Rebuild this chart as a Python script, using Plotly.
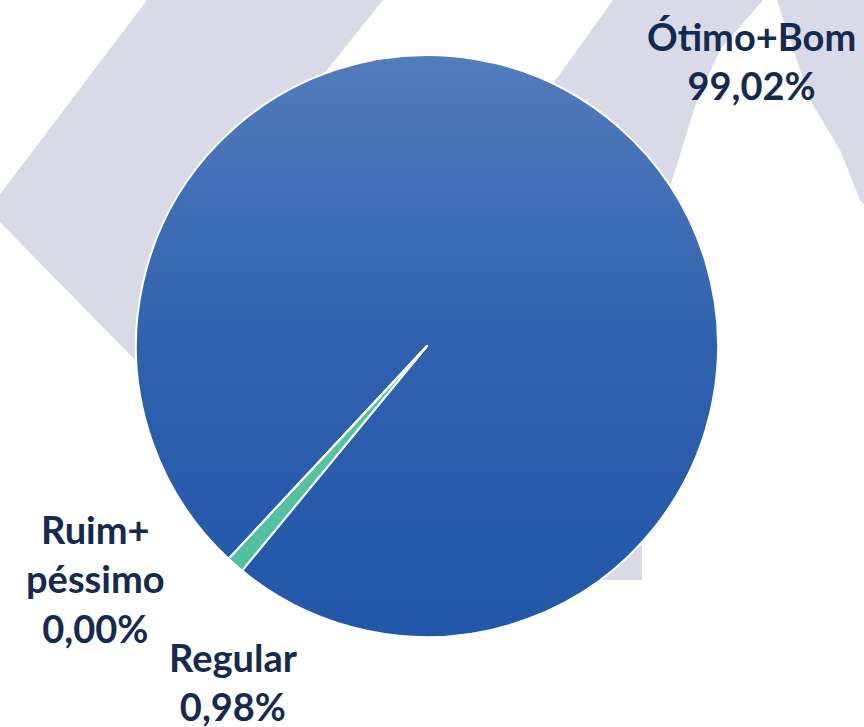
import base64
import plotly.graph_objects as go

# ---------------- data ----------------
categories = ["Ótimo+Bom", "Regular", "Ruim+péssimo"]
display_names = ["Ótimo+Bom", "Regular", "Ruim+<br>péssimo"]
values = [99.02, 0.98, 0.00]
slice_colors = ["#2257a9", "#4fbfa0", "#7f7f7f"]

W, H = 864, 727


def px(x):
    return x / W


def py(y):
    return 1 - y / H


def fmt(v):
    return f"{v:.2f}".replace(".", ",") + "%"


# pie geometry (pixels)
cx, cy, r = 427, 346, 291

fig = go.Figure()

fig.add_trace(go.Pie(
    labels=categories,
    values=values,
    sort=False,
    direction="clockwise",
    rotation=223,
    marker=dict(colors=slice_colors, line=dict(color="white", width=2)),
    textinfo="none",
    hoverinfo="label+percent",
    showlegend=False,
    domain=dict(x=[px(cx - r), px(cx + r)], y=[py(cy + r), py(cy - r)]),
))

# ---------------- watermark background shapes ----------------
wm_color = "#d8dbe7"


def poly(points):
    d = "M " + " L ".join(f"{px(x):.5f},{py(y):.5f}" for x, y in points) + " Z"
    return dict(type="path", path=d, xref="paper", yref="paper",
                fillcolor=wm_color, line=dict(width=0), layer="below")


shapes = [
    poly([(147, 0), (383, 0), (183, 250), (200, 420), (135, 360), (-12, 210)]),
    poly([(613, 0), (763, 0), (720, 50), (697, 100), (670, 187), (640, 230), (527, 120)]),
    poly([(777, 0), (870, 0), (870, 212), (860, 200), (840, 150), (810, 100)]),
    poly([(642, 500), (642, 580), (580, 580), (580, 500)]),
]

# ---------------- gradient sheen over the pie ----------------
svg = f"""<svg xmlns='http://www.w3.org/2000/svg' width='{2*r}' height='{2*r}' viewBox='0 0 {2*r} {2*r}'>
<defs><linearGradient id='g' x1='0' y1='0' x2='0' y2='1'>
<stop offset='0' stop-color='white' stop-opacity='0.22'/>
<stop offset='0.5' stop-color='white' stop-opacity='0.06'/>
<stop offset='1' stop-color='white' stop-opacity='0'/>
</linearGradient></defs>
<circle cx='{r}' cy='{r}' r='{r-1}' fill='url(#g)'/>
</svg>"""
src = "data:image/svg+xml;base64," + base64.b64encode(svg.encode()).decode()

images = [dict(source=src, xref="paper", yref="paper",
               x=px(cx - r), y=py(cy - r), sizex=2 * r / W, sizey=2 * r / H,
               xanchor="left", yanchor="top", sizing="stretch", layer="above")]

# ---------------- labels ----------------
label_pos = [(751, 60), (233, 681), (95, 578)]
annotations = []
for name, v, (lx, ly) in zip(display_names, values, label_pos):
    annotations.append(dict(
        text=f"<b>{name}<br>{fmt(v)}</b>",
        x=px(lx), y=py(ly), xref="paper", yref="paper",
        xanchor="center", yanchor="middle", showarrow=False,
        align="center",
        font=dict(family="Lato", size=38, color="#152a50"),
    ))

fig.update_layout(
    width=W, height=H,
    margin=dict(l=0, r=0, t=0, b=0),
    paper_bgcolor="white",
    plot_bgcolor="white",
    shapes=shapes,
    images=images,
    annotations=annotations,
    showlegend=False,
)

fig.write_html(
    "out.html",
    config={"displayModeBar": False},
    post_script="document.body.style.margin='0px';document.body.style.overflow='hidden';",
)
